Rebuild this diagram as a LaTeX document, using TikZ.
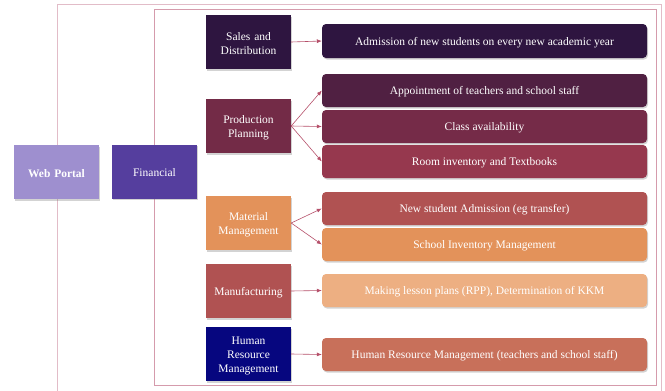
\documentclass[tikz,border=0pt]{standalone}
\usepackage{fontspec}
\setmainfont{Liberation Serif}
\usetikzlibrary{arrows.meta,shadows}
\definecolor{cWeb}{HTML}{9E8FCF}
\definecolor{cFin}{HTML}{553E9E}
\definecolor{cSales}{HTML}{2E1540}
\definecolor{cPP}{HTML}{732B47}
\definecolor{cAppt}{HTML}{502042}
\definecolor{cClass}{HTML}{752B48}
\definecolor{cRoom}{HTML}{96384E}
\definecolor{cMM}{HTML}{E3925A}
\definecolor{cNew}{HTML}{B05252}
\definecolor{cManu}{HTML}{B05252}
\definecolor{cLesson}{HTML}{EDAF82}
\definecolor{cHRM}{HTML}{06067F}
\definecolor{cHRMr}{HTML}{C8705A}
\definecolor{cFrameO}{HTML}{E2BCC8}
\definecolor{cFrameI}{HTML}{D59BAC}
\definecolor{cArrow}{HTML}{B5506A}
\tikzset{
  box/.style={draw=none, text=white, align=center,
    font=\fontsize{11.5}{14}\selectfont, inner sep=2pt,
    execute at begin node={\rule{0pt}{11pt}},
    drop shadow={shadow xshift=1pt, shadow yshift=-1.5pt, opacity=0.35}},
  lbox/.style={box, minimum width=85pt, minimum height=54pt, text width=80pt},
  rbox/.style={box, rounded corners=4pt, minimum width=325pt, minimum height=33pt},
  conn/.style={draw=cArrow, line width=0.6pt, -{Latex[length=5pt,width=4pt]}},
}
\begin{document}
\begin{tikzpicture}[x=1pt,y=-1pt]
\useasboundingbox (0,0) rectangle (665,391);
% frames
\draw[cFrameO, line width=1pt] (57,400) -- (57,4.5) -- (661,4.5) -- (661,400);
\draw[cFrameI, line width=1pt] (154,9.5) rectangle (656,385);
% left nodes
\node[lbox, fill=cWeb, font=\fontsize{11.5}{14}\selectfont\bfseries] (web) at (56.5,172) {Web Portal};
\node[lbox, fill=cFin] (fin) at (154.5,171.5) {Financial};
\node[lbox, fill=cSales] (sales) at (248.5,42) {Sales and\\Distribution};
\node[lbox, fill=cPP] (pp) at (248.5,126) {Production\\Planning};
\node[lbox, fill=cMM] (mm) at (248.5,223) {Material\\Management};
\node[lbox, fill=cManu] (manu) at (248.5,291) {Manufacturing};
\node[lbox, fill=cHRM] (hrm) at (248.5,354) {Human\\Resource\\Management};
% right nodes
\node[rbox, fill=cSales, minimum height=34pt] (adm) at (484.5,41) {Admission of new students on every new academic year};
\node[rbox, fill=cAppt] (appt) at (484.5,90.5) {Appointment of teachers and school staff};
\node[rbox, fill=cClass] (class) at (484.5,126.5) {Class availability};
\node[rbox, fill=cRoom] (room) at (484.5,161.5) {Room inventory and Textbooks};
\node[rbox, fill=cNew] (newst) at (484.5,208.5) {New student Admission (eg transfer)};
\node[rbox, fill=cMM] (inv) at (484.5,244.5) {School Inventory Management};
\node[rbox, fill=cLesson] (lesson) at (484.5,290.5) {Making lesson plans (RPP), Determination of KKM};
\node[rbox, fill=cHRMr] (hrmr) at (484.5,354.5) {Human Resource Management (teachers and school staff)};
% connectors
\draw[conn] (sales.east) -- (adm.west);
\draw[conn] (pp.east) -- (appt.west);
\draw[conn] (pp.east) -- (class.west);
\draw[conn] (pp.east) -- (room.west);
\draw[conn] (mm.east) -- (newst.west);
\draw[conn] (mm.east) -- (inv.west);
\draw[conn] (manu.east) -- (lesson.west);
\draw[conn] (hrm.east) -- (hrmr.west);
\end{tikzpicture}
\end{document}
